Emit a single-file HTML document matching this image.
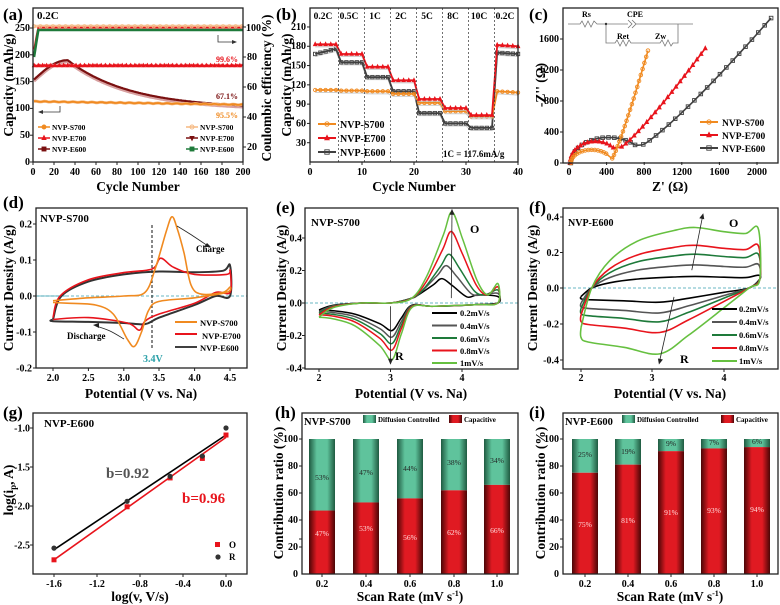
<!DOCTYPE html>
<html><head><meta charset="utf-8"><style>
html,body{margin:0;padding:0;background:#fff;}
svg{display:block;font-family:"Liberation Serif",serif;font-weight:bold;}
.t{font-size:10px;}
.ti{font-size:13.5px;}
.pl{font-size:17px;}
</style></head><body>
<svg id="s" width="780" height="605" viewBox="0 0 780 605" xmlns="http://www.w3.org/2000/svg">
<defs>
<linearGradient id="gr" x1="0" x2="1" y1="0" y2="0"><stop offset="0" stop-color="#4a0606"/><stop offset="0.3" stop-color="#e01a22"/><stop offset="0.7" stop-color="#e01a22"/><stop offset="1" stop-color="#4a0606"/></linearGradient>
<linearGradient id="gg" x1="0" x2="1" y1="0" y2="0"><stop offset="0" stop-color="#1f5a40"/><stop offset="0.3" stop-color="#5fc39c"/><stop offset="0.7" stop-color="#5fc39c"/><stop offset="1" stop-color="#1f5a40"/></linearGradient>
</defs>
<g id="plots"></g>
<!-- frames -->
<g fill="none" stroke="#222" stroke-width="1.3">
<rect x="33" y="8" width="210" height="154"/>
<rect x="310" y="8" width="208" height="154"/>
<rect x="563" y="8" width="215" height="155"/>
<rect x="36" y="208" width="211" height="160"/>
<rect x="305" y="208" width="213" height="161"/>
<rect x="563" y="208" width="215" height="161"/>
<rect x="33" y="413" width="214" height="161"/>
<rect x="302" y="413" width="216" height="161"/>
<rect x="563" y="413" width="215" height="161"/>
</g>
<g id="ticks" stroke="#222" stroke-width="1"></g>
<!-- panel labels -->
<g class="pl">
<text x="3" y="20">(a)</text><text x="276" y="20">(b)</text><text x="529" y="20">(c)</text>
<text x="3" y="208">(d)</text><text x="276" y="213">(e)</text><text x="529" y="213">(f)</text>
<text x="3" y="418">(g)</text><text x="275" y="418">(h)</text><text x="529" y="418">(i)</text>
</g>
<!-- (a) -->
<g class="t" text-anchor="end">
<text x="30" y="165">0</text><text x="30" y="138">50</text><text x="30" y="111">100</text><text x="30" y="84.5">150</text><text x="30" y="58">200</text><text x="30" y="31">250</text>
</g>
<g class="t" text-anchor="start">
<text x="247" y="150">20</text><text x="247" y="120">40</text><text x="247" y="90">60</text><text x="247" y="60">80</text><text x="246" y="31">100</text>
</g>
<g class="t" text-anchor="middle">
<text x="33" y="175">0</text><text x="54" y="175">20</text><text x="75" y="175">40</text><text x="96" y="175">60</text><text x="117" y="175">80</text><text x="138" y="175">100</text><text x="159" y="175">120</text><text x="180" y="175">140</text><text x="201" y="175">160</text><text x="222" y="175">180</text><text x="243" y="175">200</text>
</g>
<text class="ti" x="138" y="191" text-anchor="middle">Cycle Number</text>
<text class="ti" transform="translate(13,85) rotate(-90)" text-anchor="middle">Capacity (mAh/g)</text>
<text class="ti" transform="translate(271,88) rotate(-90)" text-anchor="middle">Coulombic efficiency (%)</text>
<text x="37" y="19" font-size="11">0.2C</text>
<text x="238" y="62" font-size="8" fill="#e8141c" text-anchor="end">99.6%</text>
<text x="238" y="99" font-size="8" fill="#7a1010" text-anchor="end">67.1%</text>
<text x="238" y="118" font-size="8" fill="#f08a20" text-anchor="end">95.5%</text>
<g font-size="7.5">
<text x="52" y="130">NVP-S700</text><text x="52" y="141">NVP-E700</text><text x="52" y="152">NVP-E600</text>
<text x="200" y="130">NVP-S700</text><text x="200" y="141">NVP-E700</text><text x="200" y="152">NVP-E600</text>
</g>
<!-- (b) -->
<g class="t" text-anchor="end">
<text x="306" y="146">30</text><text x="306" y="126.5">60</text><text x="306" y="107">90</text><text x="306" y="88">120</text><text x="306" y="68.5">150</text><text x="306" y="49">180</text><text x="306" y="30">210</text>
</g>
<g class="t" text-anchor="middle">
<text x="310" y="175">0</text><text x="362" y="175">10</text><text x="414" y="175">20</text><text x="466" y="175">30</text><text x="518" y="175">40</text>
</g>
<text class="ti" x="414" y="191" text-anchor="middle">Cycle Number</text>
<text class="ti" transform="translate(291,85) rotate(-90)" text-anchor="middle">Capacity (mAh/g)</text>
<g font-size="9.5" text-anchor="middle">
<text x="323" y="19">0.2C</text><text x="349" y="19">0.5C</text><text x="375" y="19">1C</text><text x="401" y="19">2C</text><text x="427" y="19">5C</text><text x="453" y="19">8C</text><text x="479" y="19">10C</text><text x="505" y="19">0.2C</text>
</g>
<g font-size="10"><text x="340" y="128">NVP-S700</text><text x="340" y="142">NVP-E700</text><text x="340" y="156">NVP-E600</text></g>
<text x="443" y="157" font-size="9">1C = 117.6mA/g</text>
<!-- (c) -->
<g class="t" text-anchor="end">
<text x="559" y="166">0</text><text x="559" y="135">400</text><text x="559" y="104">800</text><text x="559" y="73">1200</text><text x="559" y="42">1600</text>
</g>
<g class="t" text-anchor="middle">
<text x="569" y="175">0</text><text x="606.6" y="175">400</text><text x="644" y="175">800</text><text x="682" y="175">1200</text><text x="719.5" y="175">1600</text><text x="757" y="175">2000</text>
</g>
<text class="ti" x="670" y="191" text-anchor="middle">Z' (Ω)</text>
<text class="ti" transform="translate(545,85) rotate(-90)" text-anchor="middle">-Z'' (Ω)</text>
<g font-size="9.5"><text x="722" y="126">NVP-S700</text><text x="722" y="139">NVP-E700</text><text x="722" y="152">NVP-E600</text></g>
<g font-size="8"><text x="582" y="17">Rs</text><text x="627" y="17">CPE</text><text x="617" y="39">Ret</text><text x="655" y="39">Zw</text></g>
<!-- (d) -->
<g class="t" text-anchor="end">
<text x="32" y="227.5">0.2</text><text x="32" y="263.5">0.1</text><text x="32" y="299.5">0.0</text><text x="32" y="335.5">-0.1</text><text x="32" y="371.5">-0.2</text>
</g>
<g class="t" text-anchor="middle">
<text x="53" y="381">2.0</text><text x="88.4" y="381">2.5</text><text x="123.8" y="381">3.0</text><text x="159" y="381">3.5</text><text x="194.6" y="381">4.0</text><text x="230" y="381">4.5</text>
</g>
<text class="ti" x="141" y="398" text-anchor="middle">Potential (V vs. Na)</text>
<text class="ti" transform="translate(13,288) rotate(-90)" text-anchor="middle">Current Density (A/g)</text>
<text x="40" y="222" font-size="11">NVP-S700</text>
<text x="196" y="252" font-size="9">Charge</text>
<text x="67" y="339" font-size="9">Discharge</text>
<text x="143" y="362" font-size="10" fill="#2aa0a8">3.4V</text>
<g font-size="8.5"><text x="200" y="326">NVP-S700</text><text x="202" y="339">NVP-E700</text><text x="200" y="351">NVP-E600</text></g>
<!-- (e) -->
<g class="t" text-anchor="end">
<text x="302" y="241.5">0.4</text><text x="302" y="274">0.2</text><text x="302" y="306.5">0.0</text><text x="302" y="339">-0.2</text><text x="302" y="371.5">-0.4</text>
</g>
<g class="t" text-anchor="middle"><text x="319" y="381">2</text><text x="390.5" y="381">3</text><text x="462" y="381">4</text></g>
<text class="ti" x="411" y="398" text-anchor="middle">Potential (V vs. Na)</text>
<text class="ti" transform="translate(286,288) rotate(-90)" text-anchor="middle">Current Density (A/g)</text>
<text x="311" y="226" font-size="11">NVP-S700</text>
<text x="470" y="233" font-size="12">O</text>
<text x="395" y="360" font-size="12">R</text>
<g font-size="8.5"><text x="460" y="316">0.2mV/s</text><text x="460" y="329">0.4mV/s</text><text x="460" y="342">0.6mV/s</text><text x="460" y="354">0.8mV/s</text><text x="460" y="366">1mV/s</text></g>
<!-- (f) -->
<g class="t" text-anchor="end">
<text x="559" y="220.5">0.4</text><text x="559" y="256">0.2</text><text x="559" y="291.5">0.0</text><text x="559" y="327.5">-0.2</text><text x="559" y="363.5">-0.4</text>
</g>
<g class="t" text-anchor="middle"><text x="581" y="381">2</text><text x="652" y="381">3</text><text x="724" y="381">4</text></g>
<text class="ti" x="670" y="398" text-anchor="middle">Potential (V vs. Na)</text>
<text class="ti" transform="translate(537,288) rotate(-90)" text-anchor="middle">Current Density (A/g)</text>
<text x="568" y="226" font-size="10">NVP-E600</text>
<text x="729" y="227" font-size="12">O</text>
<text x="680" y="363" font-size="12">R</text>
<g font-size="8.5"><text x="739" y="312">0.2mV/s</text><text x="739" y="325">0.4mV/s</text><text x="739" y="338">0.6mV/s</text><text x="739" y="351">0.8mV/s</text><text x="739" y="364">1mV/s</text></g>
<!-- (g) -->
<g class="t" text-anchor="end">
<text x="30" y="431.5">-1.0</text><text x="30" y="470.5">-1.5</text><text x="30" y="509.5">-2.0</text><text x="30" y="548.5">-2.5</text>
</g>
<g class="t" text-anchor="middle">
<text x="54" y="587">-1.6</text><text x="97" y="587">-1.2</text><text x="140" y="587">-0.8</text><text x="183" y="587">-0.4</text><text x="226" y="587">0.0</text>
</g>
<text class="ti" x="140" y="601" text-anchor="middle">log(v, V/s)</text>
<text class="ti" transform="translate(13,490) rotate(-90)" text-anchor="middle">log(i<tspan font-size="9" dy="3">p</tspan><tspan dy="-3">, A)</tspan></text>
<text x="44" y="427" font-size="11">NVP-E600</text>
<text x="106" y="478" font-size="15" fill="#555">b=0.92</text>
<text x="182" y="503" font-size="15" fill="#e8141c">b=0.96</text>
<rect x="215" y="542" width="5" height="5" fill="#e8141c"/><text x="229" y="548" font-size="9">O</text>
<circle cx="218" cy="557" r="2.6" fill="#333"/><text x="229" y="560" font-size="9">R</text>
<!-- (h) -->
<g class="t" text-anchor="end">
<text x="298" y="577">0</text><text x="298" y="550">20</text><text x="298" y="523">40</text><text x="298" y="496">60</text><text x="298" y="469">80</text><text x="298" y="442">100</text>
</g>
<g class="t" text-anchor="middle">
<text x="322" y="587">0.2</text><text x="366" y="587">0.4</text><text x="410" y="587">0.6</text><text x="454" y="587">0.8</text><text x="497" y="587">1.0</text>
</g>
<text class="ti" x="410" y="601" text-anchor="middle">Scan Rate (mV s<tspan font-size="8" dy="-5">-1</tspan><tspan dy="5">)</tspan></text>
<text class="ti" transform="translate(283,493) rotate(-90)" text-anchor="middle">Contribution ratio (%)</text>
<text x="304" y="425" font-size="10.5">NVP-S700</text>
<rect x="363" y="415" width="13" height="8" fill="url(#gg)"/><text x="378" y="422" font-size="7">Diffusion Controlled</text>
<rect x="449" y="415" width="13" height="8" fill="url(#gr)"/><text x="464" y="422" font-size="7">Capacitive</text>
<!-- (i) -->
<g class="t" text-anchor="end">
<text x="559" y="577">0</text><text x="559" y="550">20</text><text x="559" y="523">40</text><text x="559" y="496">60</text><text x="559" y="469">80</text><text x="559" y="442">100</text>
</g>
<g class="t" text-anchor="middle">
<text x="585" y="587">0.2</text><text x="628" y="587">0.4</text><text x="671" y="587">0.6</text><text x="714" y="587">0.8</text><text x="757" y="587">1.0</text>
</g>
<text class="ti" x="670" y="601" text-anchor="middle">Scan Rate (mV s<tspan font-size="8" dy="-5">-1</tspan><tspan dy="5">)</tspan></text>
<text class="ti" transform="translate(545,493) rotate(-90)" text-anchor="middle">Contribution ratio (%)</text>
<text x="565" y="425" font-size="10.5">NVP-E600</text>
<rect x="622" y="415" width="13" height="8" fill="url(#gg)"/><text x="637" y="422" font-size="7">Diffusion Controlled</text>
<rect x="721" y="415" width="13" height="8" fill="url(#gr)"/><text x="736" y="422" font-size="7">Capacitive</text>
<g id="barlabels" font-size="7.5" text-anchor="middle" font-weight="normal">
<text x="322" y="480" fill="#222">53%</text><text x="322" y="536" fill="#fdd">47%</text>
<text x="366" y="475" fill="#222">47%</text><text x="366" y="531" fill="#fdd">53%</text>
<text x="410" y="471" fill="#222">44%</text><text x="410" y="540" fill="#fdd">56%</text>
<text x="454" y="465" fill="#222">38%</text><text x="454" y="535" fill="#fdd">62%</text>
<text x="497" y="463" fill="#222">34%</text><text x="497" y="533" fill="#fdd">66%</text>
<text x="585" y="457" fill="#222">25%</text><text x="585" y="527" fill="#fdd">75%</text>
<text x="628" y="454" fill="#222">19%</text><text x="628" y="523" fill="#fdd">81%</text>
<text x="671" y="446" fill="#222">9%</text><text x="671" y="515" fill="#fdd">91%</text>
<text x="714" y="445" fill="#222">7%</text><text x="714" y="513" fill="#fdd">93%</text>
<text x="757" y="444" fill="#222">6%</text><text x="757" y="512" fill="#fdd">94%</text>
</g>
</svg>
<script>
const NS='http://www.w3.org/2000/svg';
const G=document.getElementById('plots');
const T=document.getElementById('ticks');
function el(tag,a,par){const e=document.createElementNS(NS,tag);for(const k in a)e.setAttribute(k,a[k]);(par||G).appendChild(e);return e;}
function sm(p){let d='M'+p[0][0].toFixed(1)+' '+p[0][1].toFixed(1);
 for(let i=0;i<p.length-1;i++){const p0=p[i-1]||p[i],p1=p[i],p2=p[i+1],p3=p[i+2]||p2;
 d+=' C'+(p1[0]+(p2[0]-p0[0])/6).toFixed(1)+','+(p1[1]+(p2[1]-p0[1])/6).toFixed(1)+' '+(p2[0]-(p3[0]-p1[0])/6).toFixed(1)+','+(p2[1]-(p3[1]-p1[1])/6).toFixed(1)+' '+p2[0].toFixed(1)+','+p2[1].toFixed(1);}
 return d;}
function pl(p){return 'M'+p.map(q=>q[0].toFixed(1)+' '+q[1].toFixed(1)).join(' L');}
function line(p,c,w,x){return el('path',Object.assign({d:sm(p),fill:'none',stroke:c,'stroke-width':w||1.5,'stroke-linejoin':'round'},x||{}));}
function poly(p,c,w,x){return el('path',Object.assign({d:pl(p),fill:'none',stroke:c,'stroke-width':w||1.3},x||{}));}
function mk(p,type,c,s,fill){s=s||2.2;const f=fill||'none';
 if(type=='o')el('circle',{cx:p[0],cy:p[1],r:s,fill:f,stroke:c,'stroke-width':0.9});
 else if(type=='s')el('rect',{x:p[0]-s,y:p[1]-s,width:2*s,height:2*s,fill:f,stroke:c,'stroke-width':0.9});
 else if(type=='t')el('path',{d:`M${p[0]} ${p[1]-s*1.2} L${p[0]+s} ${p[1]+s*0.8} L${p[0]-s} ${p[1]+s*0.8}Z`,fill:f,stroke:c,'stroke-width':0.9});
 else if(type=='v')el('path',{d:`M${p[0]} ${p[1]+s*1.2} L${p[0]+s} ${p[1]-s*0.8} L${p[0]-s} ${p[1]-s*0.8}Z`,fill:f,stroke:c,'stroke-width':0.9});}
const OR='#f08a20',RD='#e8141c',DK='#404040',DR='#7a1010',GN='#1e7a3a';
function M(x0,x1,a,b,y0,y1,c,d){return p=>[a+(p[0]-x0)*(b-a)/(x1-x0),c+(p[1]-y0)*(d-c)/(y1-y0)];}
function tk(x,y,dx,dy){el('line',{x1:x,y1:y,x2:x+dx,y2:y+dy},T);}
// ticks
[[33,243,11],[310,518,5],[569,757,6]].forEach(([a,b,n])=>{for(let i=0;i<n;i++){tk(a+(b-a)*i/(n-1),162,0,3);}});
for(let v=0;v<=250;v+=50)tk(33,162-v*0.536,-3,0);
for(let v=20;v<=100;v+=20)tk(243,177-v*1.5,3,0);
for(let v=30;v<=210;v+=30)tk(310,162-v*0.643,-3,0);
for(let v=0;v<=1600;v+=400)tk(563,163-v*0.0775,-3,0);
[53,88.4,123.8,159,194.6,230].forEach(x=>tk(x,368,0,3));[224,260,296,332,368].forEach(y=>tk(36,y,-3,0));
[319,390.5,462].forEach(x=>tk(x,369,0,3));[238,270.5,303,335.5,368].forEach(y=>tk(305,y,-3,0));
[581,652,724].forEach(x=>tk(x,369,0,3));[217,252.5,288,324,360].forEach(y=>tk(563,y,-3,0));
[54,97,140,183,226].forEach(x=>tk(x,574,0,3));[428,467,506,545].forEach(y=>tk(33,y,-3,0));
[539,520,493,466,439,547].forEach(y=>{tk(302,y,-3,0);tk(563,y,-3,0);});
[322,366,410,454,497].forEach(x=>tk(x,574,0,3));[585,628,671,714,757].forEach(x=>tk(x,574,0,3));

// ---------- (a)
const A=p=>[33+p[0]*1.05,162-p[1]*0.536], C=p=>[33+p[0]*1.05,177-p[1]*1.5];
let s=[],e7=[],e6=[],e6b=[],ce1=[],ce2=[],ce3=[];
for(let n=1;n<=200;n+=1){
 s.push(A([n,113-6*n/200+Math.sin(n*0.7)*0.6]));
 e7.push(A([n,180+Math.sin(n*1.3)*0.8]));
 let v= n<33? 152+38*Math.sin(Math.PI/2*n/33): 105+85*Math.exp(-(n-33)/55)*(1-0)+0;
 if(n>=33) v=100+90*Math.exp(-(n-33)/60);
 e6.push(A([n,v])); e6b.push(A([n,v-3]));
 ce1.push(C([n,100.5]));
 ce2.push(C([n,n<5?85+15*(n-1)/4:99.6]));
 ce3.push(C([n,n<5?80+18*(n-1)/4:98]));
}
poly(e6b,'#d8a0a0',3);poly(e6,DR,2.2);
poly(s,'#f5b880',3);poly(s,OR,1.8);
poly(e7,'#f7a0a0',3);poly(e7,RD,1.8);
poly(ce1,'#f7c8a0',3);poly(ce2,RD,1.8);poly(ce3,GN,2.6);
for(let n=1;n<=200;n+=4){mk(A([n,180]),'t',RD,1.6,RD);}
for(let n=1;n<=200;n+=6){mk(C([n,100.5]),'o','#f5b880',1.6);}
// legend a
[[127,OR,'o'],[138,RD,'t'],[149,DR,'s']].forEach(([y,c,t])=>{poly([[38,y],[50,y]],c,1.5);mk([44,y],t,c,2,t=='s'?c:c);});
[[127,'#f5b880','o'],[138,DR,'v'],[149,GN,'s']].forEach(([y,c,t])=>{poly([[186,y],[198,y]],c,1.5);mk([192,y],t,c,2,t=='o'?'none':c);});
// arrows a
poly([[60,106],[60,112],[40,112]],'#333',0.8);el('path',{d:'M38 112 L43 110 L43 114Z',fill:'#333'});
poly([[218,35],[218,42],[234,42]],'#333',0.8);el('path',{d:'M237 42 L232 40 L232 44Z',fill:'#333'});

// ---------- (b)
const B=p=>[310+p[0]*5.2,162-p[1]*0.643];
const stg={S:[112,111,110,106,92,79,71,110],E7:[183,168,148,127,98,84,73,182],E6:[168,155,132,110,76,60,53,170]};
function bser(v,c,t,dv){const pts=[];for(let n=1;n<=40;n++){const k=Math.min(7,Math.floor((n-1)/5));let y=v[k];if(k==0&&dv)y=v[0]+(n-1)*2;if(k==7)y-= (n-36)*0.5;pts.push(B([n,y]));}
 poly(pts.map(p=>[p[0],p[1]+2.5]),'#bbb',1.1,{opacity:0.7});poly(pts,c,1.8);pts.forEach(p=>mk(p,t,c,1.7,t=='t'?c:'none'));}
bser(stg.E6,DK,'s',true);bser(stg.S,OR,'o');bser(stg.E7,RD,'t');
for(let k=1;k<=7;k++){const x=310+k*5*5.2+2.6;poly([[x,8],[x,k<=6&&k>=1&&k<4?162:162]],'#333',0.7,{'stroke-dasharray':'2,2'});}
[[124,OR,'o'],[138,RD,'t'],[152,DK,'s']].forEach(([y,c,t])=>{poly([[318,y],[336,y]],c,2);mk([327,y],t,c,2.2,t=='t'?c:'none');});

// ---------- (c)
const Cz=p=>[569+p[0]*0.094,163-p[1]*0.0775];
function eis(cx,r,h,x0,y0,x1,y1,c,t,step){const pts=[];for(let i=0;i<=20;i++){const a=Math.PI*i/20;pts.push([cx-r*Math.cos(a),h*Math.sin(a)]);}
 const tail=[];for(let i=1;i<=20;i++){const u=i/20;tail.push([x0+(x1-x0)*u,y0+(y1-y0)*Math.pow(u,1.15)]);}
 const all=pts.slice(0,16).concat([[x0,y0]]).concat(tail).map(Cz);
 line(all,c,1.6);all.forEach((p,i)=>{if(i%step==0)mk(p,t,c,1.8,t=='t'?c:'none');});}
eis(420,400,330,790,240,2150,1870,DK,'s',1);
eis(280,270,280,560,210,1450,1480,RD,'t',1);
eis(240,220,170,460,60,840,1450,OR,'o',1);
[[122,OR,'o'],[135,RD,'t'],[148,DK,'s']].forEach(([y,c,t])=>{poly([[700,y],[718,y]],c,2);mk([709,y],t,c,2.2,t=='t'?c:'none');});
// circuit
const cc='#777';
poly([[568,24],[580,24],[582,21],[585,27],[588,21],[591,27],[594,21],[597,24],[628,24]],cc,0.8);
poly([[628,20],[632,24],[628,28]],cc,0.8);poly([[632,20],[636,24],[632,28]],cc,0.8);poly([[636,24],[693,24]],cc,0.8);
poly([[606,24],[606,43],[615,43],[617,40],[620,46],[623,40],[626,46],[629,40],[631,43],[660,43],[662,40],[665,46],[668,40],[671,46],[673,43],[678,43],[678,24]],cc,0.8);
el('circle',{cx:606,cy:24,r:1.2,fill:'#333'});

// ---------- (d)
const D=p=>[53+(p[0]-2)*70.8,296-p[1]*360];
poly([[17,296],[47,296]].map(p=>[p[0]+19,p[1]]),'#3aa0b0',0.8);
el('line',{x1:36,y1:296,x2:247,y2:296,stroke:'#3aa0b0','stroke-width':0.8,'stroke-dasharray':'3,2'});
el('line',{x1:159+0.6*0-7,y1:225,x2:152,y2:350,stroke:'#111','stroke-width':1,'stroke-dasharray':'3,2'});
line([[2.0,-0.065],[2.12,0],[2.5,0.04],[3.0,0.06],[3.5,0.068],[4.0,0.066],[4.4,0.07],[4.5,0.085],[4.5,0.0],[4.3,0.0],[4.0,-0.025],[3.5,-0.06],[3.3,-0.078],[3.0,-0.075],[2.5,-0.072],[2.0,-0.07],[2.0,-0.065]].map(D),'#333',2);
line([[2.0,-0.06],[2.1,0],[2.5,0.045],[3.0,0.065],[3.4,0.075],[3.52,0.105],[3.7,0.08],[4.0,0.06],[4.45,0.06],[4.5,0.07],[4.5,0.01],[4.3,0.01],[4.0,-0.02],[3.5,-0.05],[3.3,-0.07],[3.22,-0.095],[3.05,-0.075],[2.5,-0.06],[2.0,-0.065]].map(D),RD,1.6);
line([[2.0,-0.013],[2.5,-0.005],[3.0,0.0],[3.3,0.01],[3.45,0.08],[3.6,0.18],[3.68,0.22],[3.75,0.19],[3.85,0.12],[3.95,0.03],[4.1,0.005],[4.4,0.01],[4.5,0.025],[4.45,0.01],[4.0,-0.005],[3.5,-0.015],[3.35,-0.04],[3.25,-0.1],[3.15,-0.14],[3.05,-0.12],[2.85,-0.05],[2.6,-0.025],[2.2,-0.02],[2.0,-0.018]].map(D),OR,1.6);
[[312,OR],[324,RD],[337,DK]].forEach(([y,c])=>poly([[175,y+10],[197,y+10]],c,2));
line([[177,226],[190,234],[208,246]],'#222',0.8);el('path',{d:'M211 247 L204 247 L207 243Z',fill:'#222'});
line([[124,339],[110,331],[96,326]],'#222',0.8);el('path',{d:'M93 325 L99 323 L99 328Z',fill:'#222'});

// ---------- (e)
const E=p=>[319+(p[0]-2)*71.5,303-p[1]*162.5];
el('line',{x1:305,y1:303,x2:518,y2:303,stroke:'#3aa0b0','stroke-width':0.8,'stroke-dasharray':'3,2'});
const ecol=['#000','#555',GN,RD,'#66c040'];
const eP=[[3.72,0.15],[3.78,0.23],[3.82,0.3],[3.85,0.44],[3.86,0.56]];
const eR=[-0.17,-0.21,-0.25,-0.29,-0.35];
for(let i=0;i<5;i++){const [px,P]=eP[i],R=eR[i];
 const up=[[2.0,0.25*R],[2.2,0.08*R],[2.6,0.0],[3.0,0.0],[3.3,0.03],[px-0.35,0.3*P],[px-0.12,0.75*P],[px,P],[px+0.15,0.7*P],[px+0.35,0.25*P],[px+0.5,0.05],[4.5,0.04+0.02*i]];
 const dn=[[4.5,0.0],[4.2,-0.01],[3.6,-0.02],[3.3,0.08*R],[3.15,0.55*R],[3.02,R],[2.85,0.75*R],[2.5,0.4*R],[2.2,0.28*R],[2.0,0.25*R]];
 line(up.concat(dn).map(E),ecol[i],1.5);}
poly([[E([3.85,0.0])[0],E([3.85,0.03])[1]],E([3.86,0.57])],'#222',0.8);el('path',{d:`M${E([3.86,0.58])[0]} ${E([3.86,0.58])[1]} l-2.5 6 l5 0Z`,fill:'#222'});
poly([E([3.0,-0.02]),E([3.0,-0.37])],'#222',0.8);el('path',{d:`M${E([3,-0.38])[0]} ${E([3,-0.38])[1]} l-2.5 -6 l5 0Z`,fill:'#222'});
ecol.forEach((c,i)=>poly([[432,313+i*12.5],[457,313+i*12.5]],c,2));

// ---------- (f)
const F=p=>[581+(p[0]-2)*71.5,288-p[1]*178];
el('line',{x1:563,y1:288,x2:778,y2:288,stroke:'#3aa0b0','stroke-width':0.8,'stroke-dasharray':'3,2'});
const fU=[0.065,0.13,0.19,0.24,0.34],fL=[-0.08,-0.14,-0.19,-0.25,-0.37];
for(let i=0;i<5;i++){const U=fU[i],L=fL[i];
 const pts=[[2.0,0.6*L],[2.15,0.0],[2.4,0.45*U],[2.8,0.78*U],[3.3,0.95*U],[3.6,U],[4.0,0.93*U],[4.3,0.9*U],[4.48,0.95*U+0.01],[4.5,0.05],[4.35,0.0],[4.0,0.3*L],[3.5,0.72*L],[3.1,L],[2.6,0.9*L],[2.1,0.82*L],[2.0,0.75*L],[2.0,0.6*L]];
 line(pts.map(F),ecol[i],1.6);}
poly([F([3.55,0.1]),F([3.7,0.4])],'#222',0.8);el('path',{d:`M${F([3.71,0.42])[0]} ${F([3.71,0.42])[1]} l-4 5 l5 1Z`,fill:'#222'});
poly([F([3.3,-0.05]),F([3.1,-0.41])],'#222',0.8);el('path',{d:`M${F([3.09,-0.43])[0]} ${F([3.09,-0.43])[1]} l-1 -6 l5 1Z`,fill:'#222'});
ecol.forEach((c,i)=>poly([[712,309+i*13],[737,309+i*13]],c,2));

// ---------- (g)
const Gm=p=>[226+p[0]*107.5,428-(p[1]+1)*78];
poly([Gm([-1.6,-2.56]),Gm([0,-1.09])],'#000',1.6);
poly([Gm([-1.6,-2.69]),Gm([0,-1.12])],RD,1.6);
[[-1.6,-2.69],[-0.92,-2.01],[-0.52,-1.64],[-0.22,-1.39],[0,-1.09]].forEach(p=>{const q=Gm(p);el('rect',{x:q[0]-2.5,y:q[1]-2.5,width:5,height:5,fill:RD});});
[[-1.6,-2.54],[-0.92,-1.94],[-0.52,-1.62],[-0.22,-1.36],[0,-1.0]].forEach(p=>{const q=Gm(p);el('circle',{cx:q[0],cy:q[1],r:2.6,fill:'#333'});});

// ---------- bars
function bars(xs,caps){xs.forEach((x,i)=>{const hc=caps[i]*1.35;el('rect',{x:x-13,y:439,width:26,height:135-hc,fill:'url(#gg)'});el('rect',{x:x-13,y:574-hc,width:26,height:hc,fill:'url(#gr)'});});}
bars([322,366,410,454,497],[47,53,56,62,66]);
bars([585,628,671,714,757],[75,81,91,93,94]);
</script>
</body></html>
